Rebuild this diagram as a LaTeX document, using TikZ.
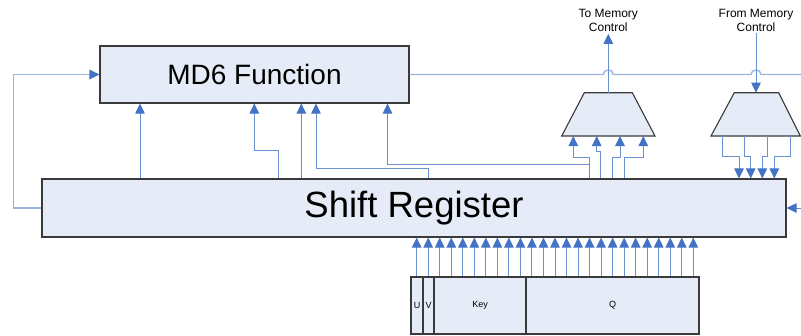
\documentclass[tikz,border=0pt]{standalone}
\usepackage{fontspec}
\setmainfont{Liberation Sans}
\usetikzlibrary{arrows.meta}
\definecolor{boxfill}{HTML}{E6ECF7}
\definecolor{wirec}{HTML}{6A92D2}
\definecolor{wirelt}{HTML}{9AB6DF}
\definecolor{tipc}{HTML}{4472C4}
\definecolor{edgec}{HTML}{3A3A3A}
\begin{document}
\begin{tikzpicture}[x=1pt,y=-1pt,
  box/.style={draw=edgec,fill=boxfill,line width=1.1pt,inner sep=0pt},
  wire/.style={draw=wirec,line width=1pt},
  ltwire/.style={draw=wirelt,line width=1.4pt},
  tip/.style={-{Triangle[length=10pt,width=9.5pt,color=tipc,fill=tipc]}},
  arr/.style={wire,tip},
  lbl/.style={align=center,inner sep=0pt,font=\fontsize{12}{14}\selectfont},
  small/.style={font=\fontsize{9}{11}\selectfont}]
\useasboundingbox (0,0) rectangle (801,335);

% main boxes
\node[box,minimum width=309pt,minimum height=57pt,font=\fontsize{28}{32}\selectfont] (md6) at (254.5,74.5) {MD6 Function};
\node[box,minimum width=744pt,minimum height=58pt,font=\fontsize{36.5}{40}\selectfont] (sr) at (414,208) {Shift Register};

% bottom register fields
\node[box,small,minimum width=12pt,minimum height=57pt] (U) at (417,305.5) {U};
\node[box,small,minimum width=11pt,minimum height=57pt] (V) at (428.5,305.5) {V};
\node[box,small,minimum width=92pt,minimum height=57pt] (Key) at (480,305.5) {Key};
\node[box,small,minimum width=173pt,minimum height=57pt] (Q) at (612.5,305.5) {Q};

% multiplexers
\draw[box] (584.3,92.7) -- (632.3,92.7) -- (655,136) -- (561.7,136) -- cycle;
\coordinate (m1top) at (608.3,92.7);
\coordinate (m1bot) at (608.3,136);
\draw[box] (734.3,92.7) -- (778.7,92.7) -- (800.3,136) -- (711,136) -- cycle;
\coordinate (m2top) at (756,92.7);
\coordinate (m2bot) at (756,136);

% labels
\node[lbl] (tomem) at (608.3,20.5) {To Memory\\Control};
\node[lbl] (frommem) at (756,20.5) {From Memory\\Control};

% top line with hops
\draw[ltwire] (md6.east) -- (603.3,74.5) .. controls (603.3,68.5) and (613.3,68.5) .. (613.3,74.5)
  -- (751,74.5) .. controls (751,68.5) and (761,68.5) .. (761,74.5) -- (801,74.5);

% feedback on the left
\draw[ltwire,tip] (sr.west) -- (13.3,208) |- (md6.west);

% shift register -> MD6
\draw[arr] (sr.north -| 140,0) -- (md6.south -| 140,0);
\draw[arr] (sr.north -| 278.7,0) |- (254.3,150.3) -- (md6.south -| 254.3,0);
\draw[arr] (sr.north -| 301.3,0) -- (md6.south -| 301.3,0);
\draw[arr] (sr.north -| 428.5,0) |- (316,168.5) -- (md6.south -| 316,0);
\draw[arr] (sr.north -| 589.3,0) |- (387.5,164.3) -- (md6.south -| 387.5,0);

% shift register -> mux 1
\draw[arr] (sr.north -| 589.3,0) |- (573.3,157.5) -- (m1bot -| 573.3,0);
\draw[arr] (sr.north -| 600.7,0) |- (596.7,151.7) -- (m1bot -| 596.7,0);
\draw[arr] (sr.north -| 612.3,0) |- (620,157.5) -- (m1bot -| 620,0);
\draw[arr] (sr.north -| 624,0) |- (643.3,157.5) -- (m1bot -| 643.3,0);

% mux 1 -> memory
\draw[arr,shorten >=2pt] (m1top) -- (tomem.south);

% memory -> mux 2
\draw[arr,shorten <=1pt] (frommem.south) -- (m2top);

% mux 2 -> shift register
\draw[arr] (m2bot -| 722.3,0) |- (739,156) -- (sr.north -| 739,0);
\draw[arr] (m2bot -| 744.3,0) |- (750.7,156) -- (sr.north -| 750.7,0);
\draw[arr] (m2bot -| 767.3,0) |- (762.3,156) -- (sr.north -| 762.3,0);
\draw[arr] (m2bot -| 790,0) |- (774.3,156) -- (sr.north -| 774.3,0);

% input from the right
\draw[arr] (801,208) -- (sr.east);

% register fields -> shift register
\foreach \i in {0,...,24} {
  \pgfmathsetmacro\xx{416.7+11.525*\i}
  \draw[arr] (Q.north -| \xx,0) -- (sr.south -| \xx,0);
}
\end{tikzpicture}
\end{document}
